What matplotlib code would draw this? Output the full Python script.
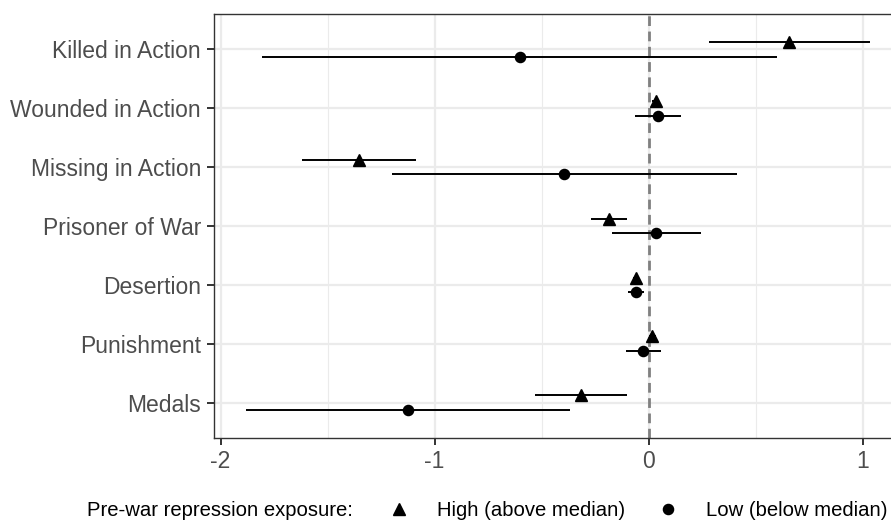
import numpy as np
import matplotlib.pyplot as plt
from matplotlib.lines import Line2D

plt.rcParams['font.family'] = ['Liberation Sans', 'DejaVu Sans']

outcomes = ['Killed in Action', 'Wounded in Action', 'Missing in Action',
            'Prisoner of War', 'Desertion', 'Punishment', 'Medals']

# high (above median) exposure: estimate, lower, upper
high_est = [0.657, 0.033, -1.352, -0.187, -0.059, 0.017, -0.316]
high_lo = [0.280, 0.015, -1.617, -0.268, -0.075, 0.000, -0.530]
high_hi = [1.033, 0.050, -1.087, -0.103, -0.043, 0.034, -0.103]

# low (below median) exposure
low_est = [-0.602, 0.043, -0.395, 0.033, -0.061, -0.026, -1.124]
low_lo = [-1.806, -0.062, -1.198, -0.172, -0.098, -0.107, -1.883]
low_hi = [0.601, 0.149, 0.412, 0.243, -0.020, 0.056, -0.367]

pos = np.arange(len(outcomes), 0, -1)
dodge = 0.125

fig = plt.figure(figsize=(8.91, 5.21), dpi=100)
ax = fig.add_axes([214.3/891, 1-438/521, (901-214.3)/891, 424/521])

# grid like theme_bw
for v in [-2, -1, 0, 1]:
    ax.axvline(v, color='#EBEBEB', lw=1.6, zorder=0)
for v in [-1.5, -0.5, 0.5]:
    ax.axvline(v, color='#EBEBEB', lw=0.8, zorder=0)
for p in pos:
    ax.axhline(p, color='#EBEBEB', lw=1.6, zorder=0)

ax.axvline(0, color='#808080', lw=2, dashes=(3.5, 2), zorder=1)

ax.hlines(pos + dodge, high_lo, high_hi, color='black', lw=1.4, zorder=2)
ax.hlines(pos - dodge, low_lo, low_hi, color='black', lw=1.4, zorder=2)
ax.plot(high_est, pos + dodge, '^', color='black', ms=8.5, zorder=3)
ax.plot(low_est, pos - dodge, 'o', color='black', ms=7.3, zorder=3)

ax.set_xlim(-2.029, 1.179)
ax.set_ylim(0.4, len(outcomes) + 0.6)
ax.set_xticks([-2, -1, 0, 1])
ax.set_xticklabels(['-2', '-1', '0', '1'])
ax.set_yticks(pos)
ax.set_yticklabels(outcomes)

for s in ax.spines.values():
    s.set_color('#333333')
    s.set_linewidth(1.0)
ax.tick_params(axis='both', colors='#333333', width=1.4, length=5,
               labelsize=16.5, labelcolor='#4D4D4D')
ax.tick_params(axis='y', pad=4.5)
ax.tick_params(axis='x', pad=4)

# legend along the bottom
ly = 1 - 510/521
fs = 14.6
fig.text(86.7/891, ly, 'Pre-war repression exposure:', fontsize=fs,
         va='center', ha='left')
fig.add_artist(Line2D([399/891], [ly + 0.002], marker='^', color='black',
                      ms=8.5, transform=fig.transFigure))
fig.text(437/891, ly, 'High (above median)', fontsize=fs, va='center', ha='left')
fig.add_artist(Line2D([668/891], [ly + 0.002], marker='o', color='black',
                      ms=7.3, transform=fig.transFigure))
fig.text(706/891, ly, 'Low (below median)', fontsize=fs, va='center', ha='left')

fig.savefig('out.png', dpi=100)
